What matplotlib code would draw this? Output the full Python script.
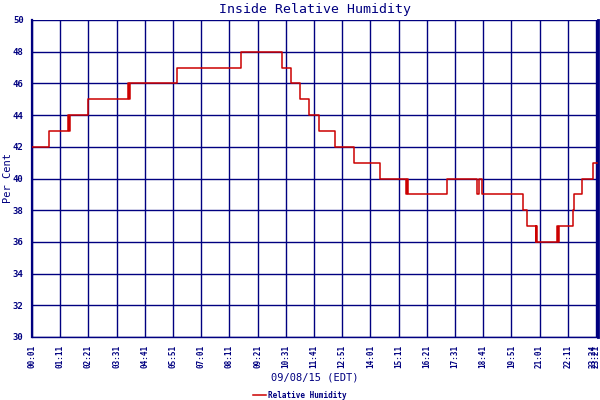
import matplotlib
matplotlib.use("Agg")
import matplotlib.pyplot as plt

# Cambios de humedad (hora, valor) - escalones
change_times = [
    "00:01", "00:44", "01:30", "01:32", "01:35", "02:19", "04:00", "04:03", "04:05",
    "06:02", "08:41", "10:22", "10:43", "11:06", "11:29", "11:54", "12:32", "13:20",
    "14:25", "15:29", "15:32", "15:35", "17:11", "18:26", "18:30", "18:37", "20:21",
    "20:29", "20:51", "20:53", "20:55", "21:45", "21:46", "21:48", "22:24", "22:27",
    "22:46", "23:13", "23:24",
]
humidity = [
    42, 43, 44, 43, 44, 45, 46, 45, 46,
    47, 48, 47, 46, 45, 44, 43, 42, 41,
    40, 39, 40, 39, 40, 39, 40, 39, 38,
    37, 36, 37, 36, 37, 36, 37, 38, 39,
    40, 41, 41,
]

tick_labels = [
    "00:01", "01:11", "02:21", "03:31", "04:41", "05:51", "07:01", "08:11",
    "09:21", "10:31", "11:41", "12:51", "14:01", "15:11", "16:21", "17:31",
    "18:41", "19:51", "21:01", "22:11", "23:21", "23:24",
]
y_ticks = [30, 32, 34, 36, 38, 40, 42, 44, 46, 48, 50]

navy = "#000080"
red = "#CC0000"
mono = "DejaVu Sans Mono"


def to_minutes(hhmm):
    h, m = hhmm.split(":")
    return int(h) * 60 + int(m)


x = [to_minutes(t) for t in change_times]
x_ticks = [to_minutes(t) for t in tick_labels]

fig = plt.figure(figsize=(6, 4), dpi=100)
ax = fig.add_axes([32 / 600, 1 - 337 / 400, 566 / 600, 317 / 400])

ax.plot(x, humidity, drawstyle="steps-post", color=red, linewidth=1.1,
        label="Relative Humidity", zorder=3)

ax.set_xlim(1, 1406)
ax.set_ylim(30, 50)
ax.set_xticks(x_ticks)
ax.set_xticklabels(tick_labels, rotation=90, fontsize=5.5, family=mono,
                   fontweight="bold", color=navy)
# la ultima etiqueta se pega a la anterior, como en el original
ax.get_xticklabels()[-1].set_horizontalalignment("right")
ax.set_yticks(y_ticks)
ax.set_yticklabels([str(v) for v in y_ticks], fontsize=6.5, family=mono,
                   fontweight="bold", color=navy)
ax.tick_params(axis="both", length=0)
ax.tick_params(axis="x", pad=6)
ax.tick_params(axis="y", pad=6)

ax.grid(True, color=navy, linewidth=1.0)
ax.set_axisbelow(True)
ax.spines["top"].set_visible(False)
ax.spines["bottom"].set_color(navy)
ax.spines["bottom"].set_linewidth(1.0)
ax.spines["left"].set_color(navy)
ax.spines["left"].set_linewidth(1.6)
ax.spines["right"].set_color(navy)
ax.spines["right"].set_linewidth(2.0)

fig.text(0.525, 1 - 9 / 400, "Inside Relative Humidity", ha="center", va="center",
         fontsize=9.5, family=mono, color=navy)
fig.text(8 / 600, 0.555, "Per Cent", rotation=90, ha="center", va="center",
         fontsize=7.5, family=mono, color=navy)
fig.text(0.525, 1 - 378 / 400, "09/08/15 (EDT)", ha="center", va="center",
         fontsize=7.5, family=mono, color=navy)

fig.legend(loc="center", bbox_to_anchor=(0.5, 1 - 395 / 400), frameon=False,
           handlelength=1.6, handletextpad=0.3, borderpad=0,
           prop={"family": mono, "size": 5.5, "weight": "bold"}, labelcolor=navy)

fig.savefig("out.png", dpi=100)
